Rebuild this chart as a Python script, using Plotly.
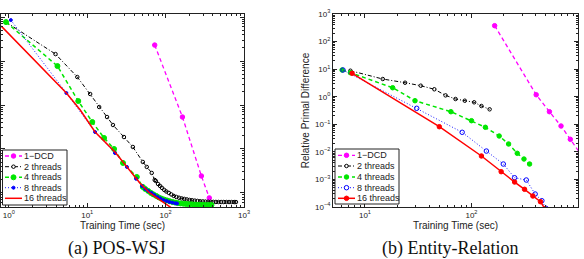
import plotly.graph_objects as go

W, H = 584, 259

# ---------------- data ----------------
NAMES = ["1\u2212DCD", "2 threads", "4 threads", "8 threads", "16 threads"]
CAPTIONS = ["(a) POS-WSJ", "(b) Entity-Relation"]
X_TITLE = "Training Time (sec)"
Y_TITLE = "Relative Primal Difference"

X_TICK_VALS = [1, 10, 100, 1000]
X_TICK_TEXT = ["10<sup>0</sup>", "10<sup>1</sup>", "10<sup>2</sup>", "10<sup>3</sup>"]
Y_TICK_VALS = [1e-4, 1e-3, 1e-2, 1e-1, 1, 10, 100, 1000]
Y_TICK_TEXT = ["10<sup>\u22124</sup>", "10<sup>\u22123</sup>", "10<sup>\u22122</sup>",
               "10<sup>\u22121</sup>", "10<sup>0</sup>", "10<sup>1</sup>",
               "10<sup>2</sup>", "10<sup>3</sup>"]

# (a) POS-WSJ
pos_dcd_t = [72.6, 164, 286, 361]
pos_dcd_y = [0.231, 5.33e-3, 2.43e-4, 7.7e-5]

pos_t2_t = [0.92, 3.94, 7.47, 10.9, 14.2, 17.9, 21.3, 29.4, 38.2, 51.2,
            57.5, 66.5, 72.6, 75, 80, 85, 90, 96, 102, 110,
            118, 127, 137, 148, 160, 173, 187, 202, 218, 236,
            255, 276, 298, 322, 348, 376, 406, 438, 473, 511,
            552, 596, 644, 695, 750, 790]
pos_t2_y = [0.77, 0.144, 0.0433, 0.0178, 9.01e-3, 5.33e-3, 3.51e-3, 1.87e-3, 1.11e-3, 5.07e-4,
            3.9e-4, 2.85e-4, 1.97e-4, 1.87e-4, 1.60e-4, 1.44e-4, 1.30e-4, 1.17e-4, 1.08e-4, 1.0e-4,
            9.25e-5, 8.55e-5, 8.1e-5, 7.78e-5, 7.5e-5, 7.31e-5, 7.12e-5, 6.93e-5, 6.82e-5, 6.68e-5,
            6.58e-5, 6.47e-5, 6.41e-5, 6.35e-5, 6.3e-5, 6.27e-5, 6.25e-5, 6.24e-5, 6.23e-5, 6.22e-5,
            6.22e-5, 6.21e-5, 6.21e-5, 6.2e-5, 6.2e-5, 6.2e-5]

pos_t4_t = [0.92, 4.17, 7.69, 11.6, 16.4, 22.0, 28.6, 42.9, 51.2, 55,
            60, 65, 70, 76, 82, 89, 96, 104, 113, 122,
            132, 143, 155, 168, 182, 197, 213, 231, 250, 270,
            292, 316, 342, 370, 385]
pos_t4_y = [0.77, 0.0769, 0.0123, 4.11e-3, 1.78e-3, 1.0e-3, 4.8e-4, 2.31e-4, 1.37e-4, 1.23e-4,
            1.11e-4, 1.0e-4, 9.25e-5, 8.55e-5, 7.9e-5, 7.42e-5, 7.04e-5, 6.76e-5, 6.47e-5, 6.24e-5,
            6.05e-5, 5.89e-5, 5.77e-5, 5.69e-5, 5.62e-5, 5.56e-5, 5.5e-5, 5.45e-5, 5.4e-5, 5.37e-5,
            5.35e-5, 5.33e-5, 5.31e-5, 5.3e-5, 5.3e-5]

pos_t8_t = [1.06, 5.42, 12.6, 22.6, 32.1, 42, 50, 55, 60, 66,
            72, 79, 86, 94, 103, 112, 122, 133, 140]
pos_t8_y = [0.855, 0.01875, 2.43e-3, 8.11e-4, 3.9e-4, 2.1e-4, 1.44e-4, 1.23e-4, 1.11e-4, 1.0e-4,
            9.0e-5, 8.1e-5, 7.5e-5, 6.93e-5, 6.58e-5, 6.24e-5, 6.03e-5, 5.83e-5, 5.74e-5]

pos_t16_t = [0.8, 5.42, 8.15, 12.6, 22.6, 32.1, 46.9, 62.6, 84, 119]
pos_t16_y = [0.624, 0.01875, 7.69e-3, 2.43e-3, 8.55e-4, 3.9e-4, 1.69e-4, 1.0e-4, 6.93e-5, 4.56e-5]

# (b) Entity-Relation
er_dcd_t = [165, 405, 539, 693, 847, 1050]
er_dcd_y = [377, 1.18, 0.286, 0.0867, 0.0285, 0.0087]

er_t2_t = [7.3, 14.7, 23.8, 33.4, 44.8, 57.1, 70.8, 86.5, 106, 124, 148]
er_t2_y = [8.77, 4.38, 3.22, 2.51, 1.86, 1.12, 0.826, 0.716, 0.627, 0.46, 0.349]

er_t4_t = [6.1, 7.3, 18.2, 29.5, 64.1, 100, 135, 182, 223, 269, 311, 351]
er_t4_y = [9.31, 7.43, 2.12, 0.716, 0.286, 0.135, 0.0778, 0.0376, 0.0193, 8.85e-3, 5.5e-3, 3.62e-3]

er_t8_t = [6.22, 30.6, 81.8, 138, 199, 254, 327, 396, 458, 500]
er_t8_y = [9.31, 0.380, 0.0512, 0.0107, 3.62e-3, 1.15e-3, 9.53e-4, 2.96e-4, 1.69e-4, 9.0e-5]

er_t16_t = [7.57, 49.9, 124, 190, 254, 315, 377, 444, 490]
er_t16_y = [7.06, 0.0817, 7.08e-3, 1.91e-3, 8.05e-4, 4.38e-4, 2.5e-4, 1.56e-4, 8.5e-5]

# ---------------- styles ----------------
COLORS = ["#ff00ff", "#000000", "#00e600", "#0000ff", "#ff0000"]
DASHES = ["4px,3px", "4px,2px,1px,2px", "4px,3px", "1px,2px", "solid"]
WIDTHS = [1.3, 1.0, 1.5, 0.9, 1.5]
# marker per panel: (symbol, size) or None
MARK_A = [("circle", 4.5), ("circle-open", 3.5), ("circle", 5), ("circle", 3), None]
MARK_B = [("circle", 4.5), ("circle-open", 3.5), ("circle", 4.5), ("circle-open", 4.5), ("circle", 4.5)]

SANS = "Liberation Sans, Arial, sans-serif"
SERIF = "Liberation Serif, Times New Roman, serif"
AXC = "#222222"

fig = go.Figure()

def add_series(t, y, i, marks, xa, ya):
    m = marks[i]
    mode = "lines+markers" if m else "lines"
    marker = {}
    if m:
        marker = dict(symbol=m[0], size=m[1], color=COLORS[i],
                      line=dict(color=COLORS[i], width=1))
    fig.add_trace(go.Scatter(x=t, y=y, mode=mode, name=NAMES[i], showlegend=False,
                             line=dict(color=COLORS[i], dash=DASHES[i], width=WIDTHS[i]),
                             marker=marker, xaxis=xa, yaxis=ya))

pos_series = [(pos_dcd_t, pos_dcd_y), (pos_t2_t, pos_t2_y), (pos_t4_t, pos_t4_y),
              (pos_t8_t, pos_t8_y), (pos_t16_t, pos_t16_y)]
er_series = [(er_dcd_t, er_dcd_y), (er_t2_t, er_t2_y), (er_t4_t, er_t4_y),
             (er_t8_t, er_t8_y), (er_t16_t, er_t16_y)]
for i, (t, y) in enumerate(pos_series):
    add_series(t, y, i, MARK_A, "x", "y")
for i, (t, y) in enumerate(er_series):
    add_series(t, y, i, MARK_B, "x2", "y2")

def minor_vals(lo, hi):
    return [m * 10.0 ** e for e in range(lo, hi) for m in range(2, 10)]

def axis(domain, rng, tv, tt, show_labels=True, title=None, standoff=2, anchor=None):
    d = dict(type="log", domain=domain, range=rng, showline=True, linecolor=AXC, linewidth=1,
             mirror="allticks", ticks="inside", ticklen=4, tickwidth=1, tickcolor=AXC,
             showgrid=False, zeroline=False, tickmode="array", tickvals=tv, ticktext=tt,
             showticklabels=show_labels,
             tickfont=dict(size=8, family=SANS, color=AXC),
             minor=dict(ticks="inside", ticklen=2, tickwidth=0.8, tickcolor=AXC,
                        tickmode="array", tickvals=minor_vals(-5, 4), showgrid=False),
             anchor=anchor)
    if title:
        d["title"] = dict(text=title, font=dict(size=10, family=SANS, color=AXC), standoff=standoff)
    return d

YD = [52 / H, 245 / H]
fig.update_layout(
    width=W, height=H, template="none",
    paper_bgcolor="white", plot_bgcolor="white",
    margin=dict(l=0, r=0, t=0, b=0),
    showlegend=False,
    xaxis=axis([1 / W, 244 / W], [-0.1, 3], X_TICK_VALS, X_TICK_TEXT, title=X_TITLE, standoff=2, anchor="y"),
    yaxis=axis(YD, [-4.32, 0.07], Y_TICK_VALS, Y_TICK_TEXT, show_labels=False, anchor="x"),
    xaxis2=axis([333 / W, 578 / W], [0.7, 3], X_TICK_VALS, X_TICK_TEXT, title=X_TITLE, standoff=2, anchor="y2"),
    yaxis2=axis(YD, [-4, 3], Y_TICK_VALS, Y_TICK_TEXT, title=Y_TITLE, standoff=3, anchor="x2"),
)

# ---------------- manual legends ----------------
def px(xp):
    return xp / W

def py(yp):
    return 1 - yp / H

def draw_legend(box, rows_y, line_x, text_x, marks):
    x0, x1, y0, y1 = box
    fig.add_shape(type="rect", xref="paper", yref="paper", x0=px(x0), x1=px(x1),
                  y0=py(y1), y1=py(y0), line=dict(color=AXC, width=1), fillcolor="white", layer="above")
    for i, ry in enumerate(rows_y):
        fig.add_shape(type="line", xref="paper", yref="paper", x0=px(line_x[0]), x1=px(line_x[1]),
                      y0=py(ry), y1=py(ry), layer="above",
                      line=dict(color=COLORS[i], dash=DASHES[i], width=WIDTHS[i]))
        m = marks[i]
        if m:
            r = m[1] / 2
            openm = m[0].endswith("open")
            fig.add_shape(type="circle", xref="paper", yref="paper", xsizemode="pixel", ysizemode="pixel",
                          xanchor=px((line_x[0] + line_x[1]) / 2), yanchor=py(ry),
                          x0=-r, x1=r, y0=-r, y1=r, layer="above",
                          fillcolor="white" if openm else COLORS[i],
                          line=dict(color=COLORS[i], width=1))
        fig.add_annotation(xref="paper", yref="paper", x=px(text_x), y=py(ry), text=NAMES[i],
                           showarrow=False, xanchor="left", yanchor="middle", borderpad=0,
                           font=dict(size=9, family=SANS, color=AXC))

draw_legend((2.5, 67, 150, 205), [156, 166.7, 177.3, 187.7, 198.3], (5, 22), 22.5, MARK_A)
draw_legend((335, 399, 149, 204), [155.3, 166, 177, 187.7, 198.3], (338, 355), 356, MARK_B)

# captions
for cx, cap in zip([117, 450], CAPTIONS):
    fig.add_annotation(xref="paper", yref="paper", x=px(cx), y=py(248.5), text=cap, showarrow=False,
                       xanchor="center", yanchor="middle", font=dict(size=18, family=SERIF, color="#111"))

fig.write_html("out.html")
